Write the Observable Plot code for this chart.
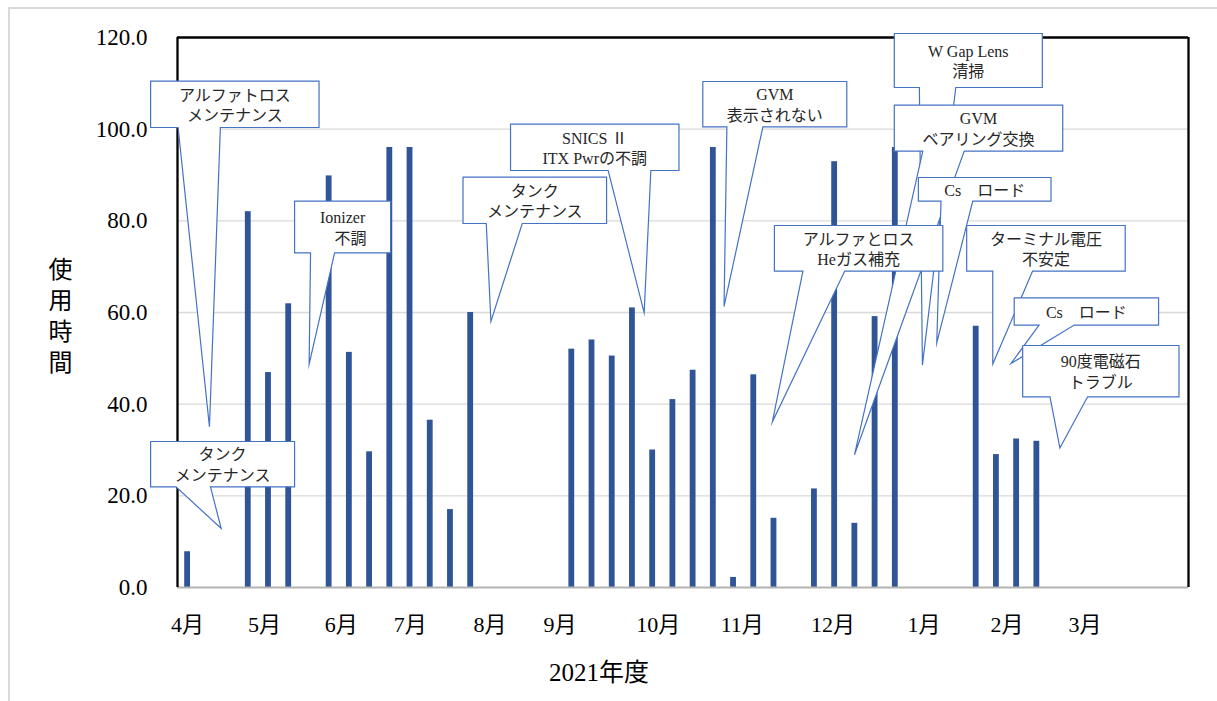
<!DOCTYPE html>
<html>
<head>
<meta charset="utf-8">
<script src="https://cdn.jsdelivr.net/npm/d3@7"></script>
<script src="https://cdn.jsdelivr.net/npm/@observablehq/plot@0.6"></script>
<style>
  html, body { margin: 0; padding: 0; background: #fff; overflow: hidden; }
  #sheet { position: absolute; left: 8px; top: 7px; width: 1400px; height: 900px;
           border: 2px solid #d9d9d9; box-sizing: border-box; }
  #chart { position: absolute; left: 0; top: 0; }
</style>
</head>
<body>
<div id="sheet"></div>
<div id="chart"></div>
<script>
// Weekly accelerator operating hours, fiscal year 2021 (50 weekly slots from April)
const hours = [
  7.8, 0, 0, 82.0, 46.9, 61.9, 0, 89.8, 51.3, 29.6,
  96.0, 96.0, 36.5, 17.0, 60.0, 0, 0, 0, 0, 52.0,
  54.0, 50.5, 61.0, 30.0, 41.0, 47.4, 96.0, 2.2, 46.4, 15.1,
  0, 21.5, 92.9, 14.0, 59.1, 96.0, 0, 0, 0, 57.0,
  29.0, 32.4, 31.9, 0, 0, 0, 0, 0, 0, 0
];

// Month labels and the week slot each one sits under
const months = ["4月", "5月", "6月", "7月", "8月", "9月", "10月", "11月", "12月", "1月", "2月", "3月"];
const monthSlot = [0.49, 4.30, 8.10, 11.51, 15.46, 18.92, 23.77, 27.93, 32.42, 36.92, 41.02, 44.88];

const yTicks = [0, 20, 40, 60, 80, 100, 120];
const gridTicks = [20, 40, 60, 80, 100];

// Maintenance / trouble callouts (in week-slot and hour units)
const noteText = [
  "アルファトロス\nメンテナンス",
  "タンク\nメンテナンス",
  "Ionizer\n\u3000不調",
  "タンク\nメンテナンス",
  "SNICS Ⅱ\nITX Pwrの不調",
  "GVM\n表示されない",
  "W Gap Lens\n清掃",
  "GVM\nベアリング交換",
  "Cs\u3000ロード",
  "アルファとロス\nHeガス補充",
  "ターミナル電圧\n不安定",
  "Cs\u3000ロード",
  "90度電磁石\nトラブル"
];
// box: [left, right, top, bottom]
const noteBox = [
  [-1.33, 7.00, 110.49, 100.36],
  [-1.33, 5.79, 31.86, 21.97],
  [5.79, 10.54, 84.31, 73.03],
  [14.12, 21.22, 89.54, 79.42],
  [16.47, 24.80, 101.11, 90.98],
  [25.98, 33.10, 110.40, 100.52],
  [35.45, 42.77, 120.87, 109.09],
  [35.45, 43.78, 105.25, 95.22],
  [36.64, 43.20, 89.45, 84.31],
  [29.52, 37.85, 78.98, 69.03],
  [39.03, 46.87, 78.98, 69.03],
  [41.38, 48.52, 63.21, 57.25],
  [41.80, 49.53, 52.80, 41.61]
];
// pointer: [base left, base right, tip x, tip y]
const notePointer = [
  [0.03, 2.12, 1.58, 35.06],
  [-0.07, 1.63, 2.16, 12.87],
  [6.58, 7.77, 6.51, 48.74],
  [15.27, 17.05, 15.50, 58.04],
  [21.30, 23.41, 23.08, 59.94],
  [27.17, 28.95, 27.03, 61.31],
  [36.69, 38.49, 36.84, 48.52],
  [36.86, 38.91, 33.48, 28.95],
  [37.76, 39.33, 37.55, 53.39],
  [30.93, 33.00, 29.42, 36.15],
  [40.32, 42.29, 40.32, 48.74],
  [42.61, 44.35, 41.22, 48.87],
  [43.15, 45.01, 43.64, 30.42]
];

const serif = "'Liberation Serif', 'Noto Sans CJK JP', serif";
const weekly = hours.map((h, i) => ({slot: i, hours: h})).filter(d => d.hours > 0);
const monthName = new Map(monthSlot.map((s, i) => [s, months[i]]));

// Callout outline: rectangle with a wedge opening on its bottom edge
function outline(b, p) {
  const [l, r, t, btm] = b;
  return [[l, t], [r, t], [r, btm], [p[1], btm], [p[2], p[3]], [p[0], btm], [l, btm], [l, t]];
}

const noteMarks = noteText.flatMap((txt, i) => {
  const b = noteBox[i];
  return [
    Plot.line(outline(b, notePointer[i]), {
      fill: "white", stroke: "#4472C4", strokeWidth: 1.2,
      strokeLinejoin: "miter", strokeMiterlimit: 10
    }),
    Plot.text([{x: (b[0] + b[1]) / 2, y: (b[2] + b[3]) / 2, t: txt}], {
      x: "x", y: "y", text: "t", fontSize: 16, lineHeight: 1.27,
      fontFamily: serif, fill: "#262626"
    })
  ];
});

const chart = Plot.plot({
  width: 1217,
  height: 701,
  marginLeft: 177,
  marginRight: 29,
  marginTop: 37,
  marginBottom: 114,
  x: {domain: [0, 50]},
  y: {domain: [0, 120]},
  style: {background: "transparent", fontFamily: serif, fontSize: "22px", color: "black"},
  marks: [
    Plot.gridY(gridTicks, {stroke: "#d9d9d9", strokeOpacity: 1, strokeWidth: 1.4}),
    Plot.rectY(weekly, {
      x1: "slot", x2: d => d.slot + 1, y: "hours",
      insetLeft: 7.2, insetRight: 7.2, fill: "#2F5597"
    }),
    Plot.ruleY([0], {stroke: "#b3b3b3", strokeWidth: 2}),
    Plot.ruleX([0, 50], {stroke: "black", strokeWidth: 2.3}),
    Plot.ruleY([120], {stroke: "black", strokeWidth: 2.3}),
    Plot.axisY(yTicks, {
      tickSize: 0, tickPadding: 30, tickFormat: d3.format(".1f"),
      fontSize: 23, fontFamily: serif, label: null
    }),
    Plot.axisX(monthSlot, {
      tickSize: 0, tickPadding: 29, tickFormat: d => monthName.get(d),
      fontSize: 22, fontFamily: serif, label: null
    }),
    Plot.text(["使\n用\n時\n間"], {
      frameAnchor: "left", textAnchor: "middle", lineAnchor: "middle",
      dx: -117, dy: 2, lineHeight: 1.3,
      fontSize: 24, fontFamily: serif, fill: "black"
    }),
    Plot.text(["2021年度"], {
      frameAnchor: "bottom", textAnchor: "middle", lineAnchor: "middle",
      dx: -84, dy: 85,
      fontSize: 25, fontFamily: serif, fill: "black"
    }),
    ...noteMarks
  ]
});

document.getElementById("chart").appendChild(chart);
</script>
</body>
</html>
